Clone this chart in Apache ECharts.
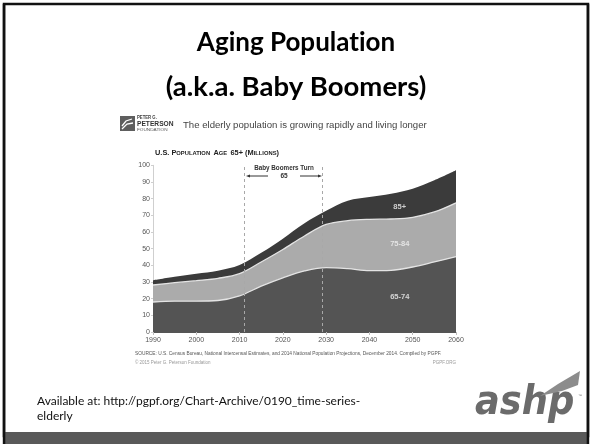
<!DOCTYPE html>
<html><head><meta charset="utf-8">
<script src="https://cdn.jsdelivr.net/npm/echarts@6/dist/echarts.min.js"></script>
<style>html,body{margin:0;padding:0;background:#fff}#c{width:592px;height:444px}</style>
</head><body><div id="c"></div>
<script>
// ---- data (millions) ----
const years     = [1990,1995,2000,2005,2010,2015,2020,2025,2030,2035,2040,2045,2050,2055,2060];
const age65to74 = [18.0,18.5,18.5,18.9,21.7,27.5,32.5,36.6,38.6,38.0,36.8,37.0,39.0,42.0,45.2];
const age75to84 = [10.2,11.1,12.3,13.3,13.3,14.5,17.0,21.0,25.9,28.8,30.8,30.8,29.8,30.0,32.3];
const age85plus = [2.8,3.5,4.2,4.6,5.2,5.5,6.5,7.6,8.2,12.0,13.4,15.2,17.2,19.0,19.5];
const seriesNames = ['65-74','75-84','85+'];
const markerYears = [2011, 2029];
const bandLabels = [[2047,21,'65-74'],[2047,53,'75-84'],[2047,75,'85+']];
const xMin = 1990, xMax = 2060, xStep = 10;
const yMin = 0, yMax = 100, yStep = 10;

// cumulative (stacked) tops of each band
const layers = [age65to74, age75to84, age85plus];
const cumul = layers.map((_, k) => years.map((y, i) => {
  let s = 0; for (let j = 0; j <= k; j++) s += layers[j][i];
  return [y, +s.toFixed(2)];
}));

const colors = ['#545454','#ababab','#3b3b3b'];
const chart = echarts.init(document.getElementById('c'), null, {renderer:'canvas'});

// draw from top band down so each lower band covers the one above it
const bandSeries = [2,1,0].map((k, order) => ({
  name: seriesNames[k], type:'line', data: cumul[k], smooth:0.35, symbol:'none',
  lineStyle:{color: k<2 ? '#e4e4e4' : colors[2], width: k<2 ? 1.3 : 0},
  areaStyle:{color: colors[k], opacity:1, origin:'start'},
  z: 2 + order
}));

const series = bandSeries.concat([
  { type:'line', data:[], markLine:{ silent:true, symbol:['none','none'],
      lineStyle:{type:[3,3], color:'#a8a8a8', width:1}, label:{show:false},
      data: markerYears.map(y=>({xAxis:y})) }, z:10 },
  { type:'scatter', symbolSize:0, z:11, data: bandLabels.map(d=>[d[0],d[1],d[2]]),
    label:{show:true, position:'inside', formatter:p=>p.data[2], color:'#f2f2f2',
      fontSize:7.5, fontWeight:'bold', fontFamily:'Liberation Sans'} }
]);

// title split into pieces so no ligature is formed
const titleFont = 'bold 26px Lato';
const mctx = document.createElement('canvas').getContext('2d');
mctx.font = titleFont;
const tA = 'Aging Populat', tB = 'ion';
const wA = mctx.measureText(tA).width, wB = mctx.measureText(tB).width;
const tx0 = 296 - (wA + wB) / 2;

const g = [];
// slide border & bottom bar
g.push({type:'rect', shape:{x:4,y:4,width:584,height:432}, style:{fill:'none', stroke:'#111', lineWidth:2.5}, z:1});
g.push({type:'rect', shape:{x:5,y:432,width:582,height:12}, style:{fill:'#595959'}, z:2});
g.push({type:'rect', shape:{x:2.8,y:4,width:2.5,height:440}, style:{fill:'#111'}, z:3});
g.push({type:'rect', shape:{x:586.7,y:4,width:2.5,height:440}, style:{fill:'#111'}, z:3});
// title
g.push({type:'text', x:tx0, y:43, style:{text:tA, font:titleFont, fill:'#000', textAlign:'left', textVerticalAlign:'middle'}});
g.push({type:'text', x:tx0 + wA, y:43, style:{text:tB, font:titleFont, fill:'#000', textAlign:'left', textVerticalAlign:'middle'}});
g.push({type:'text', x:296, y:87, style:{text:'(a.k.a. Baby Boomers)', font:'bold 27.5px Lato', fill:'#000', textAlign:'center', textVerticalAlign:'middle'}});
// peterson logo
g.push({type:'rect', shape:{x:120,y:116,width:15,height:15}, style:{fill:'#5e5e5e'}});
g.push({type:'polyline', shape:{points:[[122,126],[126,121],[132,119]]}, style:{stroke:'#fff', lineWidth:1.3, fill:'none'}});
g.push({type:'polyline', shape:{points:[[122,129],[127,124],[133,123]]}, style:{stroke:'#fff', lineWidth:1.3, fill:'none'}});
g.push({type:'text', x:137, y:117.5, scaleX:0.85, style:{text:'PETER G.', font:'bold 5px Liberation Sans', fill:'#444', textVerticalAlign:'middle'}});
g.push({type:'text', x:137, y:124, scaleX:0.9, style:{text:'PETERSON', font:'bold 7.4px Liberation Sans', fill:'#333', textVerticalAlign:'middle'}});
g.push({type:'text', x:137, y:130, scaleX:1.3, style:{text:'FOUNDATION', font:'3.6px Liberation Sans', fill:'#555', textVerticalAlign:'middle'}});
g.push({type:'text', x:183, y:125, style:{text:'The elderly population is growing rapidly and living longer', font:'9.6px Liberation Sans', fill:'#444', textVerticalAlign:'middle'}});
// chart heading (small caps)
g.push({type:'text', x:155, y:153, style:{
  text:'{a|U.S. P}{b|OPULATION} {a|A}{b|GE} {a|65+ (M}{b|ILLIONS}{a|)}',
  rich:{a:{font:'bold 7.4px Liberation Sans', fill:'#222'}, b:{font:'bold 5.8px Liberation Sans', fill:'#222'}},
  textVerticalAlign:'middle'}});
// baby boomers annotation
g.push({type:'text', x:284, y:168, style:{text:'Baby Boomers Turn', font:'bold 6.3px Liberation Sans', fill:'#333', textAlign:'center', textVerticalAlign:'middle'}});
g.push({type:'text', x:284, y:176.5, style:{text:'65', font:'bold 6.5px Liberation Sans', fill:'#333', textAlign:'center', textVerticalAlign:'middle'}});
g.push({type:'line', shape:{x1:268,y1:176,x2:249,y2:176}, style:{stroke:'#333', lineWidth:1}});
g.push({type:'polygon', shape:{points:[[246,176],[250,174.5],[250,177.5]]}, style:{fill:'#333'}});
g.push({type:'line', shape:{x1:300,y1:176,x2:319,y2:176}, style:{stroke:'#333', lineWidth:1}});
g.push({type:'polygon', shape:{points:[[322,176],[318,174.5],[318,177.5]]}, style:{fill:'#333'}});
// source lines
g.push({type:'text', x:135, y:354, style:{text:'SOURCE: U.S. Census Bureau, National Intercensal Estimates, and 2014 National Population Projections, December 2014. Compiled by PGPF.', font:'4.8px Liberation Sans', fill:'#555', textVerticalAlign:'middle'}});
g.push({type:'text', x:135, y:362.5, style:{text:'\u00a9 2015 Peter G. Peterson Foundation', font:'4.5px Liberation Sans', fill:'#999', textVerticalAlign:'middle'}});
g.push({type:'text', x:456, y:362.5, style:{text:'PGPF.ORG', font:'4.5px Liberation Sans', fill:'#999', textAlign:'right', textVerticalAlign:'middle'}});
// available at
g.push({type:'text', x:37, y:401.5, style:{text:'Available at: http://pgpf.org/Chart-Archive/0190_time-series-', font:'12px Lato', fill:'#111', textVerticalAlign:'middle'}});
g.push({type:'text', x:37, y:416.5, style:{text:'elderly', font:'12px Lato', fill:'#111', textVerticalAlign:'middle'}});
// ashp logo
g.push({type:'text', x:475, y:404, scaleX:0.92, style:{text:'ashp', font:'italic 900 40px DejaVu Sans', fill:'#6b6b6b', textVerticalAlign:'middle'}});
g.push({type:'polygon', shape:{points:[[540,396],[558,384],[580,371],[578,385],[562,391]]}, style:{fill:'#8c8c8c'}});
g.push({type:'text', x:578, y:396, style:{text:'\u2122', font:'4px Liberation Sans', fill:'#777', textVerticalAlign:'middle'}});

chart.setOption({
  animation:false,
  backgroundColor:'#ffffff',
  grid:{left:153, right:136, top:165.3, bottom:112},
  xAxis:{type:'value', min:xMin, max:xMax, interval:xStep,
    axisLine:{show:true, lineStyle:{color:'#555', width:1}},
    axisTick:{show:true, length:3, lineStyle:{color:'#bbb'}},
    axisLabel:{formatter:v=>String(v), fontSize:7, color:'#555', margin:5, fontFamily:'Liberation Sans'},
    splitLine:{show:false}},
  yAxis:{type:'value', min:yMin, max:yMax, interval:yStep,
    axisLine:{show:true, lineStyle:{color:'#cfcfcf', width:1}},
    axisTick:{show:true, length:2, lineStyle:{color:'#cfcfcf'}},
    axisLabel:{fontSize:7, color:'#555', margin:3, fontFamily:'Liberation Sans'},
    splitLine:{show:false}},
  series,
  graphic: g
});
</script></body></html>
